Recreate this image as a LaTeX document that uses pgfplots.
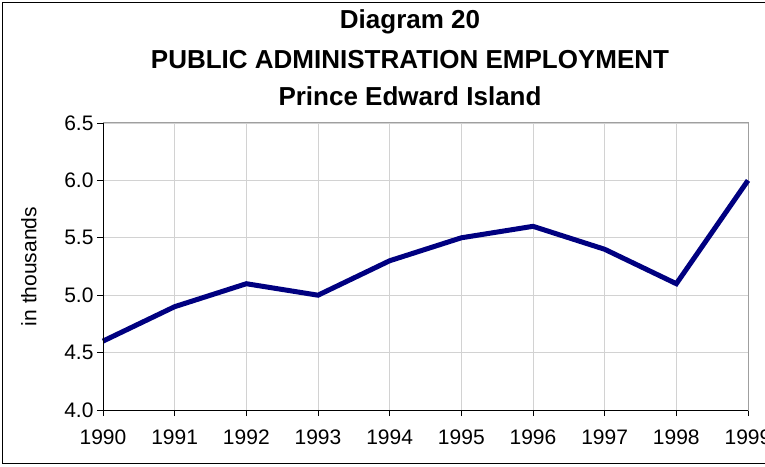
\documentclass[border=0pt]{standalone}
\usepackage{fontspec}
\setmainfont{Liberation Sans}
\usepackage{pgfplots}
\pgfplotsset{compat=1.18}
\definecolor{lineblue}{HTML}{000080}
\begin{document}
\begin{tikzpicture}[x=1pt,y=1pt]
\useasboundingbox (0,0) rectangle (765,466);
\clip (0,0) rectangle (765,466);
\draw[line width=1.3pt, black] (2.5,2.5) rectangle (800,463.5);
\node[font=\fontsize{26}{30}\bfseries\selectfont] at (410,444) {Diagram 20};
\node[font=\fontsize{26}{30}\bfseries\selectfont] at (410,406) {PUBLIC ADMINISTRATION EMPLOYMENT};
\node[font=\fontsize{26}{30}\bfseries\selectfont] at (410,370) {Prince Edward Island};
\begin{axis}[
  at={(103pt,56pt)}, anchor=south west,
  scale only axis, width=645pt, height=287pt,
  xmin=1990, xmax=1999, ymin=4, ymax=6.5,
  xtick={1990,1991,...,1999}, ytick={4,4.5,5,5.5,6,6.5},
  tick pos=left,
  /pgf/number format/assume math mode=true,
  xticklabel style={/pgf/number format/1000 sep={}, font=\fontsize{21}{24}\selectfont, yshift=-10pt},
  yticklabel style={/pgf/number format/.cd, fixed, fixed zerofill, precision=1, /tikz/font=\fontsize{21}{24}\selectfont},
  ylabel={in thousands},
  ylabel style={font=\fontsize{21}{24}\selectfont, at={(-63pt,0.5)}, anchor=south},
  grid=major, grid style={line width=0.8pt, gray!35},
  axis line style={line width=1pt, gray!75},
  tick align=outside, major tick length=6pt,
  tick style={line width=0.9pt, black},
  clip=false,
]
\addplot[line width=5pt, lineblue, line join=miter] coordinates {
  (1990,4.6) (1991,4.9) (1992,5.1) (1993,5.0) (1994,5.3)
  (1995,5.5) (1996,5.6) (1997,5.4) (1998,5.1) (1999,6.0)
};
\draw[line width=1pt, black] (axis cs:1990,6.5) -- (axis cs:1990,4) -- (axis cs:1999,4);
\end{axis}
\end{tikzpicture}
\end{document}
